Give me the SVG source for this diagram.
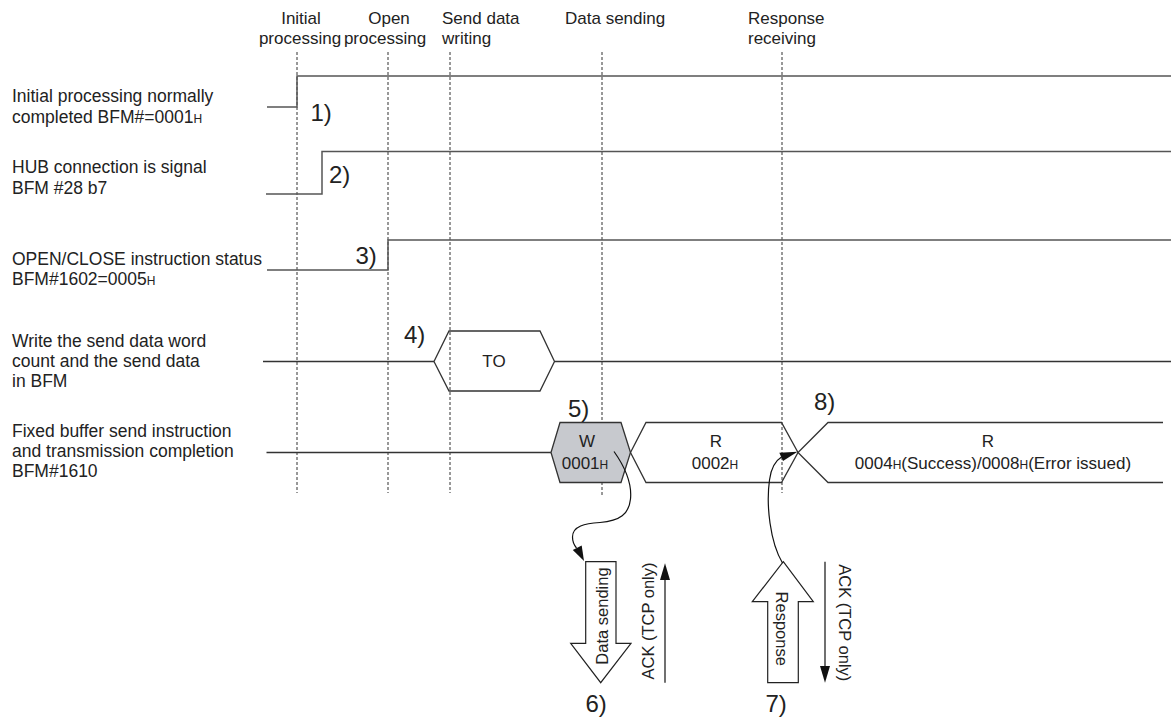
<svg xmlns="http://www.w3.org/2000/svg" width="1171" height="718" viewBox="0 0 1171 718">
<style>
text{font-family:"Liberation Sans",Arial,sans-serif;fill:#222}
.lbl{font-size:17.5px}
.hdr{font-size:17px}
.box{font-size:17px;text-anchor:middle}
.num{font-size:24px}
.rot{font-size:16.5px;text-anchor:middle}
.sub{font-size:12px}
.sig{fill:none;stroke:#555;stroke-width:1.5}
.edge{fill:none;stroke:#333;stroke-width:1.3}
.dash{stroke:#333;stroke-width:1;stroke-dasharray:3 2}
.thin{fill:none;stroke:#111;stroke-width:1.2}
.hollow{fill:#fff;stroke:#222;stroke-width:1.2}
.head{fill:#111;stroke:none}
</style>
<rect width="1171" height="718" fill="#fff"/>
<g id="phase-headers">
<text class="hdr" x="301" y="24" text-anchor="middle">Initial</text>
<text class="hdr" x="300" y="44" text-anchor="middle">processing</text>
<text class="hdr" x="389" y="24" text-anchor="middle">Open</text>
<text class="hdr" x="385" y="44" text-anchor="middle">processing</text>
<text class="hdr" x="442" y="24">Send data</text>
<text class="hdr" x="442" y="44">writing</text>
<text class="hdr" x="565" y="24">Data sending</text>
<text class="hdr" x="748" y="24">Response</text>
<text class="hdr" x="748" y="44">receiving</text>
</g>
<g id="phase-lines">
<line class="dash" x1="297" y1="52" x2="297" y2="493"/>
<line class="dash" x1="388" y1="52" x2="388" y2="493"/>
<line class="dash" x1="450" y1="52" x2="450" y2="493"/>
<line class="dash" x1="602" y1="52" x2="602" y2="495"/>
<line class="dash" x1="782" y1="52" x2="782" y2="493"/>
</g>
<g id="signal-1">
<text class="lbl" x="12" y="102">Initial processing normally</text>
<text class="lbl" x="12" y="122.5">completed BFM#=0001<tspan class="sub">H</tspan></text>
<polyline class="sig" points="267,107 297,107 297,76 1171,76"/>
<text class="num" x="310.5" y="120.5">1)</text>
</g>
<g id="signal-2">
<text class="lbl" x="12" y="173">HUB connection is signal</text>
<text class="lbl" x="12" y="193.5">BFM #28 b7</text>
<polyline class="sig" points="266,194 322,194 322,151.5 1171,151.5"/>
<text class="num" x="329" y="182.5">2)</text>
</g>
<g id="signal-3">
<text class="lbl" x="12" y="265">OPEN/CLOSE instruction status</text>
<text class="lbl" x="12" y="285">BFM#1602=0005<tspan class="sub">H</tspan></text>
<polyline class="sig" points="267,270 388,270 388,240 1171,240"/>
<text class="num" x="355.5" y="264">3)</text>
</g>
<g id="signal-4">
<text class="lbl" x="12" y="346.5">Write the send data word</text>
<text class="lbl" x="12" y="366.5">count and the send data</text>
<text class="lbl" x="12" y="386.5">in BFM</text>
<line class="edge" x1="263" y1="361.5" x2="434" y2="361.5"/>
<polygon class="edge" points="434,361.5 449,331 540,331 554.5,361.5 540,391 449,391"/>
<line class="edge" x1="554.5" y1="361.5" x2="1171" y2="361.5"/>
<text class="box" x="494" y="367">TO</text>
<text class="num" x="404" y="342.5">4)</text>
</g>
<g id="signal-5">
<text class="lbl" x="12" y="436.5">Fixed buffer send instruction</text>
<text class="lbl" x="12" y="456.5">and transmission completion</text>
<text class="lbl" x="12" y="476.5">BFM#1610</text>
<line class="edge" x1="266.5" y1="452.5" x2="551" y2="452.5"/>
<polygon points="551,452.5 560,422.5 621,422.5 630.5,452.5 621,482.5 560,482.5" fill="#c7c9ce" stroke="#333" stroke-width="1.3"/>
<text class="box" x="587" y="446.5">W</text>
<text class="box" x="585" y="468.5">0001<tspan class="sub">H</tspan></text>
<polygon class="edge" points="630.5,452.5 646,422.5 781.5,422.5 798,452.5 781.5,482.5 646,482.5"/>
<text class="box" x="716" y="446.5">R</text>
<text class="box" x="715" y="468.5">0002<tspan class="sub">H</tspan></text>
<polyline class="edge" points="1163,422.5 828,422.5 798,452.5 828,482.5 1163,482.5"/>
<text class="box" x="988" y="446.5">R</text>
<text class="box" x="993" y="468.5">0004<tspan class="sub">H</tspan>(Success)/0008<tspan class="sub">H</tspan>(Error issued)</text>
<text class="num" x="568" y="416.5">5)</text>
<text class="num" x="814" y="410">8)</text>
</g>
<g id="data-sending">
<polygon class="hollow" points="585.7,561.7 616,561.7 616,643.3 631,643.3 600.7,682.7 570.7,643.3 585.7,643.3"/>
<text class="rot" transform="translate(607.5,616) rotate(-90)">Data sending</text>
<text class="num" x="585.5" y="711.5">6)</text>
</g>
<g id="ack-up">
<line class="thin" x1="665" y1="682.7" x2="665" y2="578"/>
<polygon class="head" points="665,563.3 670,580 660,580"/>
<text class="rot" transform="translate(653.5,621) rotate(-90)">ACK (TCP only)</text>
</g>
<g id="response">
<polygon class="hollow" points="783.3,561.7 813.3,601.7 798.3,601.7 798.3,682.7 767.7,682.7 767.7,601.7 752.3,601.7"/>
<text class="rot" transform="translate(775.5,628.7) rotate(90)">Response</text>
<text class="num" x="765.5" y="711.5">7)</text>
</g>
<g id="ack-down">
<line class="thin" x1="825" y1="561.7" x2="825" y2="668"/>
<polygon class="head" points="825,682.7 830,666 820,666"/>
<text class="rot" transform="translate(838.5,622.8) rotate(90)">ACK (TCP only)</text>
</g>
<g id="connectors">
<path class="thin" d="M614,451.5 C625,467 632,484 630.5,499 C629,514 620,521 600,522.5 C585,523.5 572.5,526 572.5,537 C572.5,541 574,545 576.5,548"/>
<polygon class="head" points="584,561 572.8,549.9 581.7,545.4"/>
<path class="thin" d="M782.5,563 C770,542 766,505 769.5,480 C771,468 775,461 781.5,457"/>
<polygon class="head" points="797.5,451.7 779.3,452.7 783,461"/>
</g>
</svg>
